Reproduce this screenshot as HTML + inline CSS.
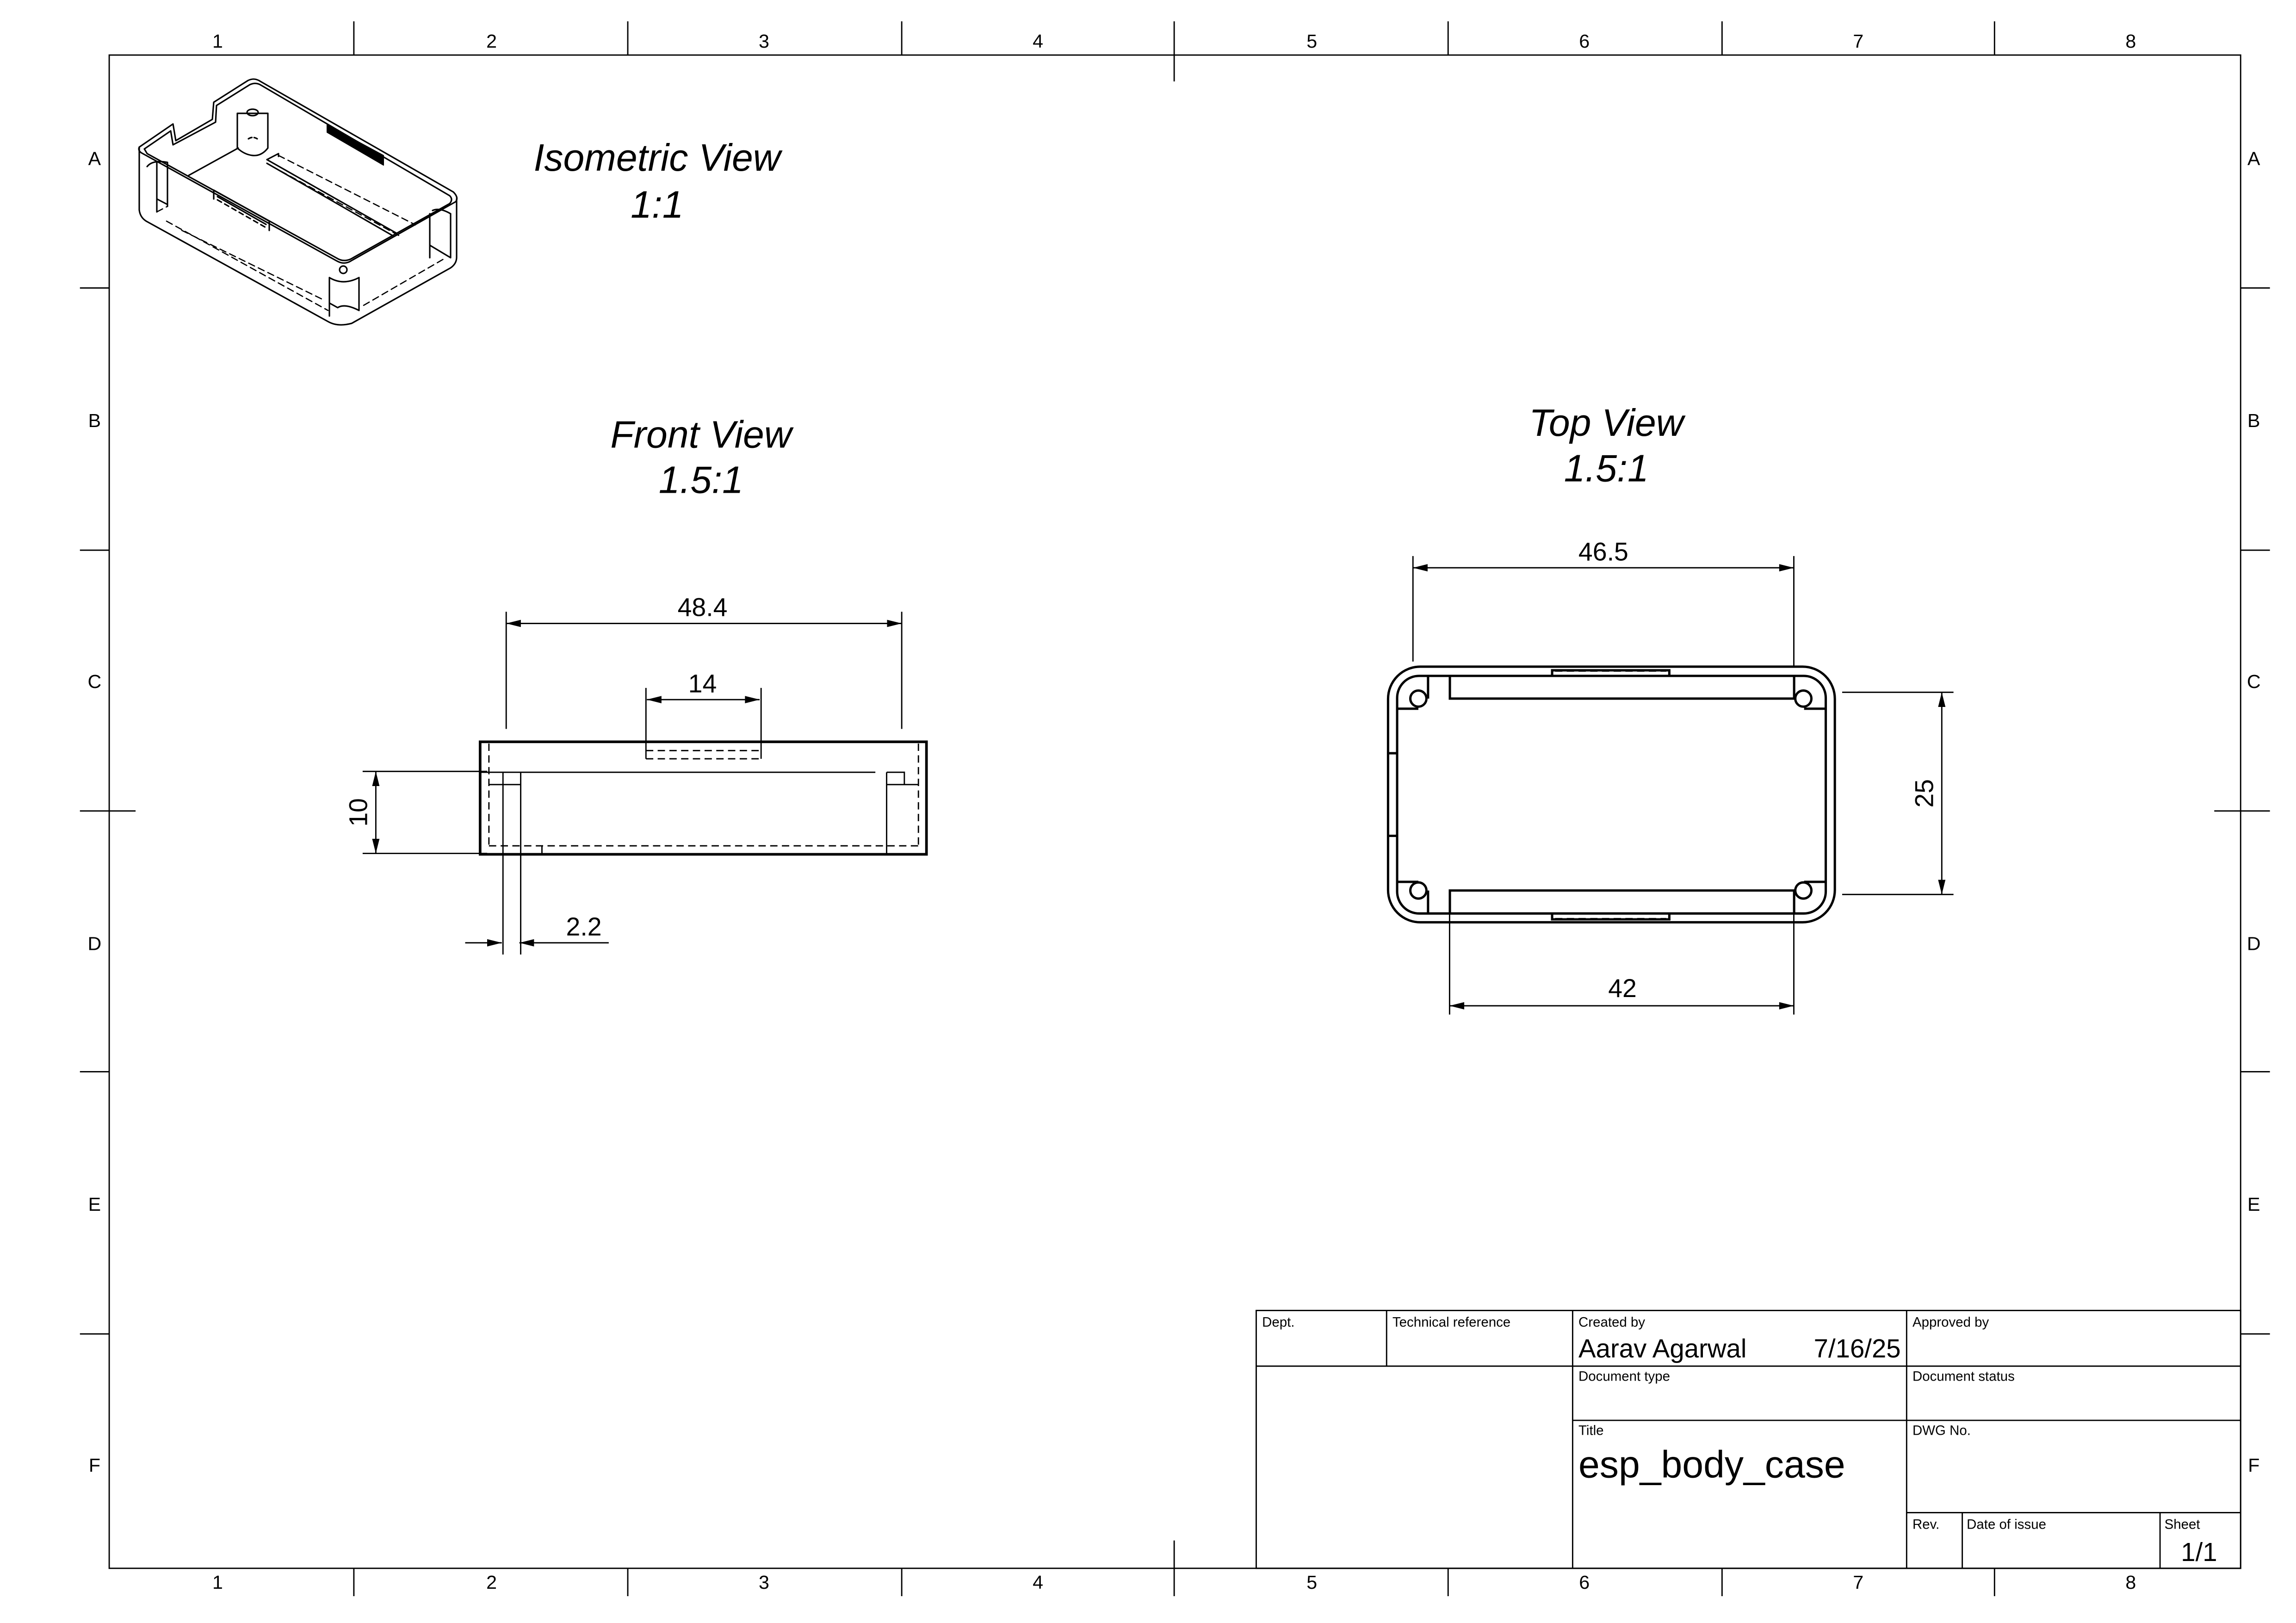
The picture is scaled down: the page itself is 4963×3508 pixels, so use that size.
<!DOCTYPE html>
<html><head><meta charset="utf-8"><style>html,body{margin:0;padding:0;background:#fff}svg{display:block}</style></head>
<body>
<svg width="4963" height="3508" viewBox="0 0 1560 1102.7" preserveAspectRatio="none" xmlns="http://www.w3.org/2000/svg" font-family="Liberation Sans, sans-serif">
<rect width="1560" height="1103" fill="#fff"/>
<g transform="translate(-0.44,-0.42) scale(0.9953)">
<g stroke="#000" fill="none" stroke-width="0.9">
<rect x="75" y="38" width="1455" height="1033"/>
<path d="M242 15V38M429 15V38M616 15V38M802 15V56M989 15V38M1176 15V38M1362 15V38"/>
<path d="M242 1071V1090M429 1071V1090M616 1071V1090M802 1052V1090M989 1071V1090M1176 1071V1090M1362 1071V1090"/>
<path d="M55 197H75M55 376H75M55 554H93M55 732H75M55 911H75"/>
<path d="M1530 197H1550M1530 376H1550M1512 554H1550M1530 732H1550M1530 911H1550"/>
<rect x="858" y="895" width="672" height="176"/>
<path d="M858 933H1530M1074 970H1530M1302 1033H1530M947 895V933M1074 895V1071M1302 895V1071M1340 1033V1071M1475 1033V1071"/>
</g>
<g font-size="13" text-anchor="middle" fill="#000">
<text x="149" y="33">1</text><text x="336" y="33">2</text><text x="522" y="33">3</text><text x="709" y="33">4</text><text x="896" y="33">5</text><text x="1082" y="33">6</text><text x="1269" y="33">7</text><text x="1455" y="33">8</text>
<text x="149" y="1085">1</text><text x="336" y="1085">2</text><text x="522" y="1085">3</text><text x="709" y="1085">4</text><text x="896" y="1085">5</text><text x="1082" y="1085">6</text><text x="1269" y="1085">7</text><text x="1455" y="1085">8</text>
<text x="65" y="113">A</text><text x="65" y="292">B</text><text x="65" y="470">C</text><text x="65" y="649">D</text><text x="65" y="827">E</text><text x="65" y="1005">F</text>
<text x="1539" y="113">A</text><text x="1539" y="292">B</text><text x="1539" y="470">C</text><text x="1539" y="649">D</text><text x="1539" y="827">E</text><text x="1539" y="1005">F</text>
</g>
<g font-size="9.3" fill="#000">
<text x="862" y="906">Dept.</text><text x="951" y="906">Technical reference</text><text x="1078" y="906">Created by</text><text x="1306" y="906">Approved by</text>
<text x="1078" y="943">Document type</text><text x="1306" y="943">Document status</text><text x="1078" y="980">Title</text><text x="1306" y="980">DWG No.</text>
<text x="1306" y="1044">Rev.</text><text x="1343" y="1044">Date of issue</text><text x="1478" y="1044">Sheet</text>
</g>
<g fill="#000">
<text x="1078" y="927" font-size="17.8">Aarav Agarwal</text>
<text x="1298" y="927" font-size="17.8" text-anchor="end">7/16/25</text>
<text x="1078" y="1009" font-size="26">esp_body_case</text>
<text x="1514" y="1066" font-size="17.8" text-anchor="end">1/1</text>
</g>
<g font-size="26" font-style="italic" text-anchor="middle" fill="#000">
<text x="449" y="117">Isometric View</text><text x="449" y="149">1:1</text>
<text x="479" y="306">Front View</text><text x="479" y="337">1.5:1</text>
<text x="1097" y="298">Top View</text><text x="1097" y="329">1.5:1</text>
</g>
<!-- Front view -->
<g stroke="#000" fill="none">
<rect x="328.2" y="506.8" width="304.7" height="76.8" stroke-width="1.8"/>
<g stroke-width="0.9">
<path d="M328 527.6H598M346 418V498M616 418V498M346 426H616M441.4 470V518.4M520 470V518.4M442 478H519"/>
<path d="M248 527H333M248 583H333M257 527V583M343.8 527.6V652M355.9 527.6V652M318 644H343M355 644H416"/>
<path d="M334.2 536H355.9M605.7 527.6V583.6M605.7 527.6H617.8V536M605.7 536H627.4M370.4 577.8V583.6"/>
<path d="M441.4 512.8H520M441.4 518.4H520M334.2 577.8H627.4M334.2 508V577.8M627.4 508V577.8" stroke-dasharray="5 3"/>
</g>
<g fill="#000" stroke="none">
<path d="M346 426l10-2.5v5zM616 426l-10-2.5v5zM442 478l10-2.5v5zM519 478l-10-2.5v5zM257 527l-2.5 10h5zM257 583l-2.5-10h5zM343 644l-10-2.5v5zM355 644l10-2.5v5z"/>
</g>
</g>
<g font-size="17.5" fill="#000" text-anchor="middle">
<text x="480" y="421">48.4</text><text x="480" y="473">14</text><text x="399" y="639">2.2</text>
<text transform="translate(251 555) rotate(-90)">10</text>
<text x="1095" y="383">46.5</text><text x="1108" y="681">42</text>
<text transform="translate(1320 542) rotate(-90)">25</text>
</g>
<!-- Top view -->
<g stroke="#000" fill="none">
<g stroke-width="1.6">
<rect x="948" y="455.5" width="305" height="174.5" rx="22"/>
<rect x="954.2" y="461.8" width="292.6" height="162.2" rx="15"/>
<path d="M990.2 461.8V477.3H1225.2V461.8M990.2 624V608.3H1225.2V624M975.3 461.8V477.3M975.3 624V608.3M954.2 484.2H968.7M954.2 602.4H968.7M1232 484.2H1246.8M1232 602.4H1246.8M948 514.6H954.2M948 571H954.2"/>
<circle cx="968.7" cy="477.3" r="5.5"/><circle cx="1231.5" cy="477.3" r="5.5"/><circle cx="968.7" cy="608.3" r="5.5"/><circle cx="1231.5" cy="608.3" r="5.5"/>
<path d="M1060 461.8V458H1140V461.8M1060 624V628H1140V624"/>
</g>
<path d="M1062 458.5H1138M1062 627.5H1138" stroke-dasharray="5 3" stroke-width="0.9"/>
<g stroke-width="0.9">
<path d="M965 380V452M1225 380V456M965 388H1225M990 624V693M1225 624V693M990 687H1225M1258 473H1334M1258 611H1334M1326 473V611"/>
</g>
<g fill="#000" stroke="none">
<path d="M965 388l10-2.5v5zM1225 388l-10-2.5v5zM990 687l10-2.5v5zM1225 687l-10-2.5v5zM1326 473l-2.5 10h5zM1326 611l-2.5-10h5z"/>
</g>
</g>
</g>
<!-- Iso view in actual pixel coords -->
<g transform="scale(0.314327)" stroke="#000" fill="none" stroke-width="3.2" stroke-linejoin="round" stroke-linecap="round">
<path d="M301 318 L374 268 L380 304 L459 258 L462 221 L536 174 Q550 167 563 176 L980 415 Q992 427 985 436 L755 566 Q742 572 728 564 L305 330 Q298 325 301 318 Z"/>
<path d="M312 322 L369 283 L374 313 L466 264 L468 228 L540 183 Q553 177 564 184 L972 423 Q980 431 972 440 L758 560 Q742 567 728 558 L318 332 Z"/>
<path d="M301 318 L301 454 Q303 470 316 478 L709 695 Q730 707 760 699 L974 579 Q987 570 987 556 L987 430"/>
<path d="M515 320 L408 379"/>
<path d="M513 245 H579 V320 Q565 338 546 336 Q528 334 513 320 Z"/>
<ellipse cx="546" cy="243" rx="12" ry="7"/>
<path d="M537 300 Q546 294 556 300" stroke-dasharray="8 5"/>
<path d="M577 345 L857 504 M577 353 L850 510 M577 345 L602 332 L602 338"/>
<path d="M707 270 L829 336 L829 357 L707 286 Z" fill="#000" stroke-width="2"/>
<path d="M462 411 L582 478 L582 498 M462 411 L462 430 M470 425 L575 485"/>
<path d="M470 432 L575 492" stroke-dasharray="10 8"/>
<path d="M712 600 V683 M776 600 V671 M712 600 Q742 618 776 600 M712 655 L730 665 Q745 655 776 671"/>
<circle cx="742" cy="583" r="8"/>
<path d="M339 351 V458 M362 351 V446 M318 360 Q330 345 362 351 M339 430 L362 442"/>
<path d="M929 462 V557 M974 462 V557 M935 455 Q950 448 974 462 M929 530 L974 557"/>
<g stroke-dasharray="14 9" stroke-width="2.6">
<path d="M602 336 L898 486"/>
<path d="M587 359 L862 509"/>
<path d="M360 478 L709 671"/>
<path d="M393 498 L699 648"/>
<path d="M786 660 L964 557"/>
<path d="M339 458 L362 446"/>
</g>
</g>
</svg>
</body></html>
